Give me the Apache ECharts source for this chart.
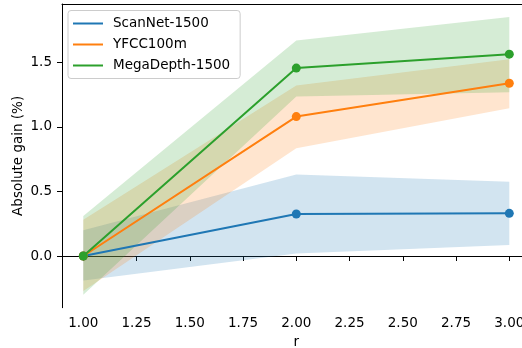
<!DOCTYPE html>
<html><head><meta charset="utf-8">
<script src="https://cdn.jsdelivr.net/npm/echarts@6/dist/echarts.min.js"></script>
<style>html,body{margin:0;padding:0;background:#fff}#c{width:522px;height:348px}</style>
</head><body><div id="c"></div>
<script>
const rValues = [1, 2, 3];
const names = ['ScanNet-1500', 'YFCC100m', 'MegaDepth-1500'];
const colors = ['#1f77b4', '#ff7f0e', '#2ca02c'];
const scanMean = [0.0, 0.325, 0.33];
const scanLow = [-0.19, 0.02, 0.085];
const scanHigh = [0.20, 0.63, 0.575];
const yfccMean = [0.0, 1.079, 1.337];
const yfccLow = [-0.27, 0.834, 1.144];
const yfccHigh = [0.28, 1.319, 1.523];
const megaMean = [0.0, 1.454, 1.562];
const megaLow = [-0.30, 1.234, 1.268];
const megaHigh = [0.31, 1.668, 1.849];
const xTicks = [1.0, 1.25, 1.5, 1.75, 2.0, 2.25, 2.5, 2.75, 3.0];
const yTicks = [0.0, 0.5, 1.0, 1.5];

const means = [scanMean, yfccMean, megaMean];
const lows = [scanLow, yfccLow, megaLow];
const highs = [scanHigh, yfccHigh, megaHigh];
const FONT = 'DejaVu Sans';

const chart = echarts.init(document.getElementById('c'));
const series = [];
for (let k = 0; k < 3; k++) {
  const lo = lows[k], hi = highs[k];
  series.push({
    type: 'custom', z: 1, silent: true,
    data: rValues.map((r, i) => [r, lo[i], hi[i]]),
    renderItem: function (params, api) {
      if (params.dataIndex !== 0) return;
      const pts = [];
      for (let i = 0; i < rValues.length; i++) pts.push(api.coord([rValues[i], hi[i]]));
      for (let i = rValues.length - 1; i >= 0; i--) pts.push(api.coord([rValues[i], lo[i]]));
      return { type: 'polygon', shape: { points: pts },
        style: { fill: colors[k], opacity: 0.2 } };
    }
  });
}
for (let k = 0; k < 3; k++) {
  series.push({
    name: names[k], type: 'line', z: 3 + k,
    data: rValues.map((r, i) => [r, means[k][i]]),
    symbol: 'circle', symbolSize: 9,
    lineStyle: { color: colors[k], width: 2 },
    itemStyle: { color: colors[k] },
    emphasis: { disabled: true }
  });
}

chart.setOption({
  animation: false,
  textStyle: { fontFamily: FONT },
  grid: { left: 62, top: 4, right: -8.6, bottom: 40.3, outerBoundsMode: 'none', containLabel: false, show: false },
  legend: {
    orient: 'vertical', left: 68, top: 10.5,
    padding: [6, 10, 6, 5], itemGap: 7,
    itemWidth: 30, itemHeight: 2, icon: 'rect',
    backgroundColor: '#fff', borderColor: '#cccccc', borderWidth: 1, borderRadius: 3,
    textStyle: { fontFamily: FONT, fontSize: 13.5, color: '#000', padding: [0, 0, 0, 5], lineHeight: 14 },
    data: names
  },
  xAxis: [{
    type: 'value', min: 0.9, max: 3.1, position: 'bottom',
    name: 'r', nameLocation: 'middle', nameGap: 28, nameMoveOverlap: false,
    nameTextStyle: { fontFamily: FONT, fontSize: 13.5, color: '#000' },
    axisLine: { show: true, lineStyle: { color: '#000', width: 1 } },
    axisTick: { show: true, inside: false, length: 5, lineStyle: { color: '#000' }, customValues: xTicks },
    axisLabel: { fontFamily: FONT, fontSize: 13.5, color: '#000', margin: 9, customValues: xTicks,
      hideOverlap: false, formatter: v => v.toFixed(2) },
    splitLine: { show: false }
  }, {
    type: 'value', min: 0.9, max: 3.1, position: 'top',
    axisLine: { show: true, lineStyle: { color: '#000', width: 1 } },
    axisTick: { show: false }, axisLabel: { show: false }, splitLine: { show: false }
  }],
  yAxis: {
    type: 'value', min: -0.4, max: 1.95,
    name: 'Absolute gain (%)', nameLocation: 'middle', nameGap: 37, nameMoveOverlap: false,
    nameTextStyle: { fontFamily: FONT, fontSize: 13.5, color: '#000' },
    axisLine: { show: true, lineStyle: { color: '#000', width: 1 } },
    axisTick: { show: true, inside: false, length: 5, lineStyle: { color: '#000' }, customValues: yTicks },
    axisLabel: { fontFamily: FONT, fontSize: 13.5, color: '#000', margin: 10, customValues: yTicks,
      formatter: v => v.toFixed(1) },
    splitLine: { show: false }
  },
  series: series
});
</script></body></html>
